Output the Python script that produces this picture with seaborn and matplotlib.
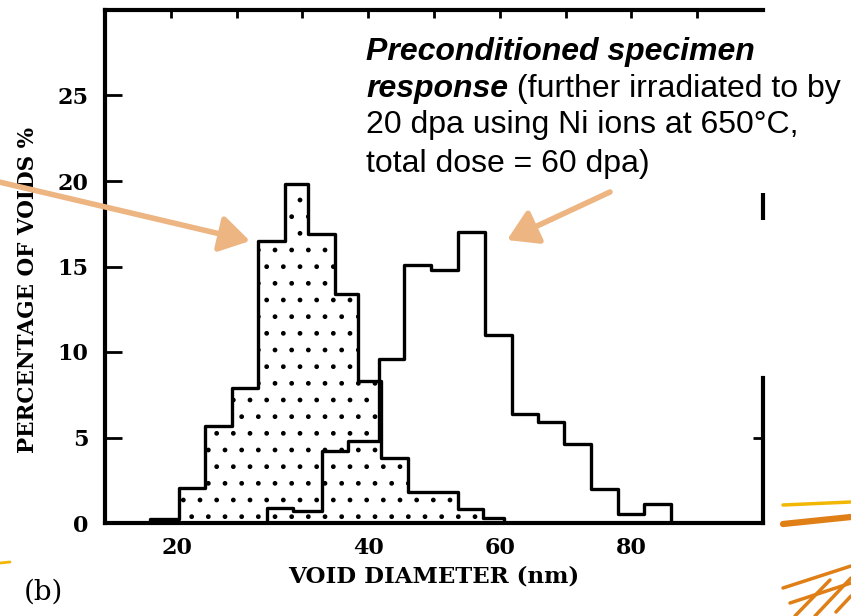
import matplotlib
matplotlib.use('agg')
import matplotlib.pyplot as plt
from matplotlib.lines import Line2D
import numpy as np
import seaborn as sns

# stippled histogram (initial specimen), bin edges in nm and % of voids
initial_edges = [6.8, 11.3, 15.2, 19.3, 23.3, 27.4, 30.9, 35.0, 38.5, 42.0, 46.0, 53.6, 57.4, 60.6]
initial_pct = [0.25, 2.05, 5.7, 7.9, 16.5, 19.8, 16.9, 13.4, 8.3, 3.8, 1.8, 0.8, 0.3]

# outlined histogram (preconditioned specimen)
precond_edges = [24.6, 28.6, 33.0, 37.0, 41.6, 45.4, 49.5, 53.7, 57.8, 61.9,
                 65.8, 69.7, 73.8, 77.9, 81.9, 86.0]
precond_pct = [0.9, 0.7, 4.2, 4.8, 9.6, 15.1, 14.8, 17.0, 11.0, 6.4, 5.9, 4.6, 2.0, 0.5, 1.1]

xtick_pos = [11, 40, 60, 80]
xtick_labels = ['20', '40', '60', '80']
yticks = [0, 5, 10, 15, 20, 25]
top_ticks = [10, 20, 30, 40, 50, 60, 70, 80, 90]

W, H = 851, 616
ARROW = '#EDB582'


def mids(edges):
    e = np.asarray(edges)
    return (e[:-1] + e[1:]) / 2


def fx(px):
    return px / W


def fy(py):
    return 1 - py / H


sns.set_style('white')
plt.rcParams['font.family'] = ['DejaVu Serif']
plt.rcParams['hatch.color'] = 'black'
plt.rcParams['hatch.linewidth'] = 1.0
plt.rcParams['text.color'] = 'black'
plt.rcParams['axes.labelcolor'] = 'black'
plt.rcParams['xtick.color'] = 'black'
plt.rcParams['ytick.color'] = 'black'

fig = plt.figure(figsize=(W / 100, H / 100), dpi=100)
ax = fig.add_axes([fx(105), fy(523), fx(763) - fx(105), fy(10) - fy(523)])

sns.histplot(x=mids(initial_edges), weights=initial_pct, bins=initial_edges,
             element='step', fill=True, color='black', facecolor='white',
             edgecolor='black', linewidth=2.4, hatch='.', alpha=1, ax=ax)
sns.histplot(x=mids(precond_edges), weights=precond_pct, bins=precond_edges,
             element='step', fill=True, color='black', facecolor='none',
             edgecolor='black', linewidth=2.4, alpha=1, ax=ax)

ax.set_xlim(0, 100)
ax.set_ylim(0, 30)
ax.set_xticks(xtick_pos, xtick_labels)
ax.set_yticks(yticks)
ax.tick_params(axis='x', bottom=False, length=0, pad=10, labelsize=16)
ax.tick_params(axis='y', left=True, direction='in', length=12, width=2, pad=12,
               labelsize=16)
for t in ax.get_xticklabels() + ax.get_yticklabels():
    t.set_fontweight('bold')

for side in ['left', 'bottom', 'top', 'right']:
    ax.spines[side].set_color('black')
    ax.spines[side].set_linewidth(3)
# the right border is mostly covered by the slide text in the original
ax.spines['right'].set_bounds(0, 8.5)
ax.plot([100, 100], [17.7, 19.3], color='black', lw=3, clip_on=False,
        solid_capstyle='butt')

sec_top = ax.secondary_xaxis('top')
sec_top.set_xticks(top_ticks)
sec_top.tick_params(direction='in', length=6, width=2, labeltop=False, top=True)
sec_top.spines['top'].set_visible(False)

sec_right = ax.secondary_yaxis('right')
sec_right.set_yticks([5])
sec_right.tick_params(direction='in', length=7, width=2, labelright=False, right=True)
sec_right.spines['right'].set_visible(False)

ax.set_xlabel('VOID DIAMETER (nm)', fontsize=16.5, fontweight='bold')
ax.xaxis.set_label_coords(0.5, -0.083)
ax.set_ylabel('PERCENTAGE OF VOIDS %', fontsize=15.5, fontweight='bold')
ax.yaxis.set_label_coords(-0.1, 0.454)

fig.text(fx(43), fy(592), '(b)', ha='center', va='center', fontsize=20)

# slide annotation
sans = 'Liberation Sans'
fs = 23
fig.text(fx(366), fy(60), 'Preconditioned specimen', family=sans, fontsize=fs,
         fontweight='bold', fontstyle='italic', va='baseline')
resp = fig.text(fx(366), fy(97), 'response', family=sans, fontsize=fs,
                fontweight='bold', fontstyle='italic', va='baseline')
ax.annotate(' (further irradiated to by', xy=(1, 0), xycoords=resp,
            family=sans, fontsize=fs, va='bottom', ha='left', annotation_clip=False)
fig.text(fx(366), fy(133), '20 dpa using Ni ions at 650°C,', family=sans,
         fontsize=fs, va='baseline')
fig.text(fx(366), fy(172), 'total dose = 60 dpa)', family=sans,
         fontsize=fs, va='baseline')

arrow_kw = dict(arrowstyle='-|>,head_length=0.9,head_width=0.55', color=ARROW,
                lw=4, mutation_scale=20, shrinkA=0, shrinkB=0)
ax.annotate('', xy=(250, H - 241), xycoords='figure pixels',
            xytext=(-5, H - 181), textcoords='figure pixels',
            arrowprops=arrow_kw, annotation_clip=False)
ax.annotate('', xy=(507, H - 240), xycoords='figure pixels',
            xytext=(610, H - 192), textcoords='figure pixels',
            arrowprops=arrow_kw, annotation_clip=False)

# slide background decoration
deco = [
    ((783, 851), (505, 502), '#F2B705', 2.5),
    ((783, 851), (524, 517), '#DF7F16', 4.5),
    ((0, 10), (563, 562), '#F2B705', 2.0),
    ((783, 851), (588, 566), '#DF7F16', 2.5),
    ((790, 851), (603, 583), '#DF7F16', 2.5),
    ((795, 830), (616, 580), '#DF7F16', 2.5),
    ((815, 851), (616, 578), '#DF7F16', 2.5),
    ((836, 851), (612, 596), '#DF7F16', 2.5),
]
for xs, ys, c, lw in deco:
    fig.add_artist(Line2D([fx(x) for x in xs], [fy(y) for y in ys], color=c,
                          lw=lw, transform=fig.transFigure))

fig.savefig('out.png', dpi=100)
